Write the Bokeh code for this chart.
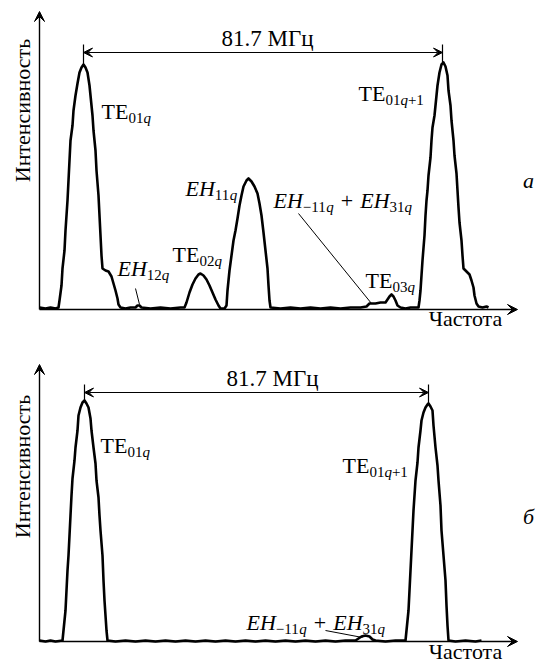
from bokeh.plotting import figure
from bokeh.models import Range1d, Arrow, VeeHead, Label
from bokeh.layouts import column
from bokeh.embed import file_html
from bokeh.resources import INLINE
import math

# ---------------- data (channel number, intensity a.u.) ----------------
freq_a = [0,6,11,16,19,20,22,23,25,26,27,28,29,30,31,33,34,36,38,40,42,44,46,48,50,51,53,54,56,57,
          59,60,61,62,63,66,69,72,74,76,78,79,81,86,91,96,98,100,102,111,121,131,141,145,147,150,153,156,159,161,
          164,167,170,173,176,179,181,185,187,188,190,192,194,196,198,200,202,204,207,209,212,215,218,220,222,224,226,228,229,230,
          231,241,251,261,271,281,291,301,311,321,327,330,336,341,346,348,350,352,354,356,358,361,366,371,379,380,381,382,383,385,
          386,387,388,389,391,392,393,395,396,398,400,402,404,406,408,409,411,412,414,415,417,418,419,420,422,423,424,427,430,432,
          434,435,437,439,443,447,449]
int_a = [2,1,2,1,2,9,24,41,59,79,94,109,129,149,169,184,199,214,226,237,242,245,242,237,224,214,194,179,159,139,
         114,94,74,54,41,39,38,33,26,19,11,5,2,1,2,2,4,4,2,1,2,1,2,2,7,17,25,31,35,36,
         34,30,24,17,10,4,1,1,4,19,39,54,69,79,91,104,114,123,129,131,128,123,116,106,94,77,59,41,24,9,
         2,1,2,1,2,1,2,1,2,2,3,6,6,7,7,10,13,15,13,9,4,2,1,2,2,9,19,34,49,74,
         94,109,119,134,152,169,182,194,204,224,237,245,247,243,234,219,204,189,169,154,136,119,102,87,69,54,41,38,35,29,
         22,14,6,3,2,3,2]

freq_b = [0,6,11,16,23,24,25,26,27,28,29,30,31,32,33,35,36,38,39,41,43,45,47,49,51,52,54,56,57,59,
          60,61,63,64,65,66,67,68,76,86,96,106,116,126,136,146,156,166,176,186,196,206,216,226,236,246,256,266,276,286,
          296,306,316,319,322,326,330,333,336,346,356,366,367,368,369,370,371,372,373,374,375,376,378,379,381,382,384,386,388,389,
          391,393,394,396,398,399,401,402,404,406,407,408,409,416,426,436,442]
int_b = [1,0,1,0,1,11,21,31,51,71,86,106,126,146,163,181,194,211,226,234,239,241,238,234,223,211,194,178,161,144,
         126,111,86,61,41,26,11,1,0,1,0,1,0,1,0,1,0,1,0,1,0,1,0,1,0,1,0,1,0,1,
         0,1,1,3,5,6,5,2,1,0,1,1,11,21,31,51,71,91,111,131,146,161,179,194,211,221,229,234,237,238,
         235,231,216,194,176,161,136,111,86,61,36,16,1,0,1,0,1]

peaks_a = [44, 403]      # TE01q, TE01q+1 channels (panel a)
peaks_b = [45, 389]      # panel б
spacing_label = "81.7 МГц"
x_label = "Частота"
y_label = "Интенсивность"

FONT = "Liberation Serif"

def make_fig(height, y0, y1):
    p = figure(width=536, height=height, x_range=Range1d(-39, 497), y_range=Range1d(y0, y1),
               x_axis_type=None, y_axis_type=None, toolbar_location=None,
               output_backend="svg", min_border=0)
    p.outline_line_color = None
    return p

def axes(p, ytop):
    p.add_layout(Arrow(x_start=0, y_start=0, x_end=0, y_end=ytop, line_width=1.4,
                       end=VeeHead(size=10, fill_color="black", line_color="black", line_width=1)))
    p.add_layout(Arrow(x_start=0, y_start=0, x_end=478, y_end=0, line_width=1.4,
                       end=VeeHead(size=10, fill_color="black", line_color="black", line_width=1)))

def txt(p, x, y, text, size=22, italic=False, align="left", angle=0, xo=0, yo=0):
    p.add_layout(Label(x=x, y=y, x_offset=xo, y_offset=yo, text=text, text_font=FONT,
                       text_font_size=f"{size}px", text_font_style="italic" if italic else "normal",
                       text_align=align, text_baseline="middle", angle=angle, text_color="black"))

WID = {'T': 0.611, 'E': 0.611, 'H': 0.722, '0': 0.5, '1': 0.5, '2': 0.5, '3': 0.5,
       'q': 0.5, '+': 0.564, '−': 0.564}

def rich(p, x, y, parts):
    off = 0.0
    for text, size, italic, sub in parts:
        if text == "GAP":
            off += size
            continue
        txt(p, x, y, text, size=size, italic=italic, xo=off, yo=-6 if sub else 0)
        off += sum(WID.get(c, 0.5) for c in text) * size

def te(idx, extra=""):
    parts = [("TE", 22, False, False), (idx, 15, False, True), ("q", 15, True, True)]
    if extra:
        parts.append((extra, 15, False, True))
    return parts

def eh(idx):
    return [("EH", 22, True, False), (idx, 15, False, True), ("q", 15, True, True)]

EH_SUM = [("EH", 22, True, False), ("−11", 15, False, True), ("q", 15, True, True),
          ("GAP", 7, False, False), ("+", 22, False, False), ("GAP", 7, False, False),
          ("EH", 22, True, False), ("31", 15, False, True), ("q", 15, True, True)]

def spacing(p, pk, ya, tick_lo, label_x):
    p.add_layout(Arrow(x_start=pk[0], y_start=ya, x_end=pk[1], y_end=ya, line_width=1.2,
                       start=VeeHead(size=9, fill_color="black", line_color="black", line_width=1),
                       end=VeeHead(size=9, fill_color="black", line_color="black", line_width=1)))
    for xk, lo in zip(pk, tick_lo):
        p.segment(x0=[xk], y0=[lo], x1=[xk], y1=[ya + 8], line_color="black", line_width=1.2)
    txt(p, label_x, ya + 14, spacing_label, size=23, align="center")

# ---------------- panel a ----------------
pa = make_fig(340, -31, 309)
axes(pa, 298)
pa.line(freq_a, int_a, line_color="black", line_width=2.6, line_join="round")
spacing(pa, peaks_a, 257, [245, 247], 228)
rich(pa, 62, 198, te("01"))
rich(pa, 319, 216, te("01", "+1"))
rich(pa, 146, 121, eh("11"))
rich(pa, 78, 41, eh("12"))
rich(pa, 133, 55, te("02"))
rich(pa, 326, 29, te("03"))
rich(pa, 234, 109, EH_SUM)
pa.segment(x0=[96, 259], y0=[21, 96], x1=[100, 332], y1=[5, 6], line_color="black", line_width=1)
txt(pa, -17, 199, y_label, size=22, align="center", angle=math.pi / 2)
txt(pa, 426, -9, x_label, size=22, align="center")
txt(pa, 489, 129, "a", size=22, italic=True, align="center")

# ---------------- panel б ----------------
pb = make_fig(324, -23, 301)
axes(pb, 277)
pb.line(freq_b, int_b, line_color="black", line_width=2.6, line_join="round")
spacing(pb, peaks_b, 249, [241, 238], 233)
rich(pb, 61, 196, te("01"))
rich(pb, 303, 176, te("01", "+1"))
rich(pb, 207, 19, EH_SUM)
pb.segment(x0=[286], y0=[11], x1=[323], y1=[4], line_color="black", line_width=1)
txt(pb, -17, 175, y_label, size=22, align="center", angle=math.pi / 2)
txt(pb, 426, -10, x_label, size=22, align="center")
txt(pb, 489, 125, "б", size=22, italic=True, align="center")

layout = column(pa, pb, spacing=0)
open("out.html", "w").write(file_html(layout, INLINE))
